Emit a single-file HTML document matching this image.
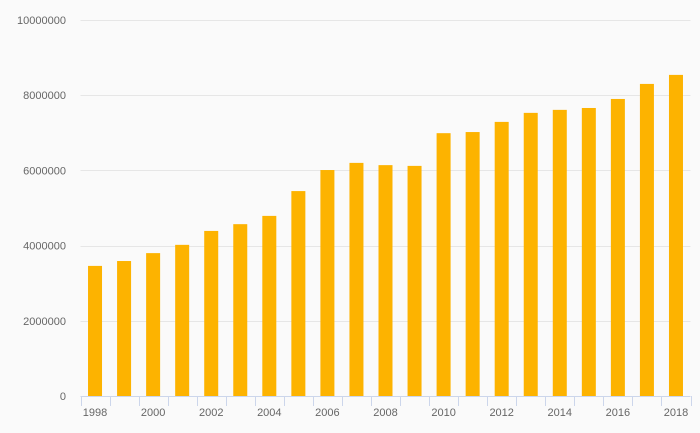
<!DOCTYPE html>
<html><head><meta charset="utf-8"><style>
body{margin:0;background:#fafafa;}
svg{display:block;font-family:"Liberation Sans",sans-serif;}
</style></head><body>
<svg id="chart" width="700" height="433">
<rect width="700" height="433" fill="#fafafa"/>
<g id="grid"></g><g id="bars"></g><g id="axis"></g>
</svg>
<script>
const years=[1998,1999,2000,2001,2002,2003,2004,2005,2006,2007,2008,2009,2010,2011,2012,2013,2014,2015,2016,2017,2018];
const values=[3460000,3590000,3800000,4020000,4390000,4570000,4790000,5450000,6010000,6200000,6140000,6120000,6990000,7020000,7290000,7530000,7610000,7660000,7900000,8300000,8540000];
const yTicks=[0,2000000,4000000,6000000,8000000,10000000];
const ns='http://www.w3.org/2000/svg';
const L=80.5,R=690.5,T=20,B=396,yMax=10000000;
const cw=(R-L)/years.length;
const y=v=>B-(v/yMax)*(B-T);
const x=i=>L+cw*i;
function mk(tag,attrs,parent,text){const e=document.createElementNS(ns,tag);for(const k in attrs)e.setAttribute(k,attrs[k]);if(text!==undefined)e.textContent=text;document.getElementById(parent).appendChild(e);return e;}
yTicks.forEach(t=>{
  const g=mk('line',{x1:L,x2:R,y1:Math.round(y(t))+0.5,y2:Math.round(y(t))+0.5,stroke:t===0?'none':'#e6e6e6'},'grid');
  
  
  const lb=mk('text',{x:66,y:y(t)+4,'text-anchor':'end','font-size':11,fill:'#666'},'grid',String(t));
  
  
});
values.forEach((v,i)=>{
  const b=mk('rect',{x:x(i)+cw/2-7,y:y(v),width:14,height:B-y(v),fill:'#fdb300'},'bars');
  
  
});
const ax=mk('line',{x1:L,x2:R,y1:B+0.5,y2:B+0.5,stroke:'#ccd6eb'},'axis');


for(let i=0;i<=years.length;i++){
  const tk=mk('line',{x1:Math.round(x(i))+0.5,x2:Math.round(x(i))+0.5,y1:B,y2:B+10,stroke:'#ccd6eb'},'axis');
  
  
}
years.forEach((yr,i)=>{
  if(i%2)return;
  const t=mk('text',{x:x(i)+cw/2,y:416,'text-anchor':'middle','font-size':11,fill:'#666'},'axis',String(yr));
  
  
});
</script>
</body></html>
